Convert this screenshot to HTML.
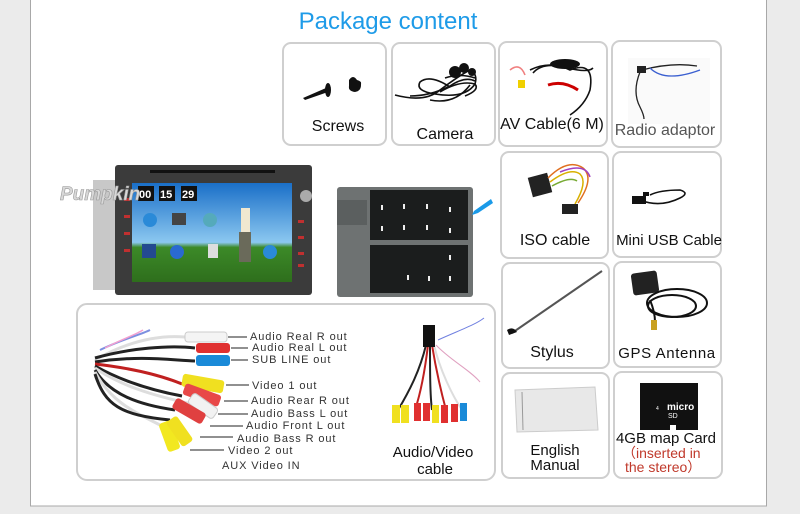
<!DOCTYPE html>
<html><head><meta charset="utf-8"><style>
html,body{margin:0;padding:0;background:#ebebeb;}
body{width:800px;height:514px;overflow:hidden;position:relative;font-family:"Liberation Sans",Arial,sans-serif;}
svg{position:absolute;left:0;top:0;}
</style></head><body>
<svg width="800" height="514" viewBox="0 0 800 514" xmlns="http://www.w3.org/2000/svg" font-family="Liberation Sans, Arial, sans-serif">
<rect x="0" y="0" width="800" height="514" fill="#ebebeb"/>
<rect x="30.5" y="-2" width="736" height="508" fill="#fff" stroke="#a8a8a8" stroke-width="1"/>

<text x="388" y="29" font-size="24" fill="#1e9be8" text-anchor="middle">Package content</text>

<!-- boxes -->
<g fill="#fff" stroke="#cfcfcf" stroke-width="2">
<rect x="283" y="43" width="103" height="102" rx="8"/>
<rect x="392" y="43" width="103" height="102" rx="8"/>
<rect x="499" y="42" width="108" height="104" rx="8"/>
<rect x="612" y="41" width="109" height="106" rx="8"/>
<rect x="501" y="152" width="107" height="106" rx="8"/>
<rect x="613" y="152" width="108" height="105" rx="8"/>
<rect x="502" y="263" width="107" height="105" rx="8"/>
<rect x="614" y="262" width="107" height="105" rx="8"/>
<rect x="502" y="373" width="107" height="105" rx="8"/>
<rect x="614" y="372" width="108" height="106" rx="8"/>
<rect x="77" y="304" width="418" height="176" rx="10"/>
</g>

<!-- screws -->
<g fill="#111">
<polygon points="303,98 326,88 328,92 305,100"/>
<ellipse cx="328" cy="90" rx="3" ry="7"/>
<path d="M349,80 q4,-6 8,0 q5,1 4,5 q0,6 -6,7 q-7,-1 -6,-6z"/>
</g>
<!-- camera -->
<g fill="none" stroke="#111" stroke-width="1.6">
<path d="M395,95 q30,8 45,-5 q20,-15 30,-20 q8,4 5,14 q-10,15 -40,10 q-20,-3 -15,-12 q10,-8 30,5"/>
<path d="M410,96 q20,0 40,-10 q15,-10 25,-5"/>
<path d="M430,100 q25,5 40,-15"/>
<path d="M440,92 q20,-12 35,-8 q5,6 -10,12"/>
<path d="M445,78 q15,-5 30,0"/>
</g>
<g fill="#111"><circle cx="455" cy="72" r="6"/><circle cx="464" cy="68" r="5"/><circle cx="472" cy="72" r="4"/></g>
<!-- AV cable -->
<g fill="none" stroke-width="1.6">
<path d="M510,70 q10,-8 15,5" stroke="#f08080"/>
<path d="M530,70 q20,-10 40,0 q25,-10 20,20 q-5,15 -20,25" stroke="#111"/>
<path d="M533,73 q10,-12 35,-5 q20,5 25,0" stroke="#111"/>
<path d="M548,85 q15,-5 30,5" stroke="#c00" stroke-width="3"/>
</g>
<rect x="518" y="80" width="7" height="8" fill="#f0d000"/>
<ellipse cx="565" cy="64" rx="15" ry="5" fill="#111"/>
<!-- radio adaptor -->
<rect x="628" y="58" width="82" height="66" fill="#fafafa"/>
<g fill="none" stroke-width="1.3">
<path d="M640,72 q-8,20 0,35 q4,8 4,12" stroke="#222"/>
<path d="M642,70 q30,-8 55,-4" stroke="#222"/>
<path d="M650,68 q15,15 50,2" stroke="#3a5fd0"/>
</g>
<rect x="637" y="66" width="9" height="7" fill="#222"/>
<!-- ISO cable -->
<rect x="530" y="175" width="20" height="20" fill="#222" transform="rotate(-15 540 185)"/>
<g fill="none" stroke-width="1.5">
<path d="M548,178 q20,-20 35,-10 q12,10 -5,35" stroke="#e07020"/>
<path d="M550,182 q20,-15 30,-8 q8,8 -5,30" stroke="#d8b000"/>
<path d="M552,186 q18,-10 25,-5" stroke="#7a3"/>
<path d="M560,172 q25,-10 30,5" stroke="#a040c0"/>
</g>
<rect x="562" y="204" width="16" height="10" fill="#222"/>
<!-- mini usb -->
<g fill="none" stroke="#111" stroke-width="1.6">
<path d="M640,200 q20,8 40,-2 q10,-5 0,-8 q-20,0 -30,5"/>
</g>
<rect x="632" y="196" width="14" height="8" fill="#111"/>
<rect x="643" y="192" width="6" height="4" fill="#111"/>
<!-- stylus -->
<line x1="512" y1="333" x2="602" y2="271" stroke="#555" stroke-width="2"/>
<path d="M507,330 q6,-4 10,2 l-8,3z" fill="#111"/>
<!-- GPS -->
<rect x="632" y="272" width="26" height="22" rx="3" fill="#222" transform="rotate(-8 645 283)"/>
<g fill="none" stroke="#111" stroke-width="2">
<ellipse cx="677" cy="303" rx="30" ry="14"/>
<ellipse cx="672" cy="306" rx="24" ry="11"/>
<path d="M650,300 q5,12 5,22"/>
</g>
<rect x="651" y="320" width="6" height="10" fill="#c9a020"/>
<!-- manual -->
<polygon points="515,390 595,387 598,430 517,432" fill="#e8e8e8" stroke="#ccc"/>
<line x1="522" y1="392" x2="523" y2="430" stroke="#999"/>
<!-- microSD -->
<path d="M640,383 h58 v47 h-22 v-5 h-6 v5 h-30z" fill="#111"/>
<text x="667" y="410" font-size="10" fill="#fff" font-weight="bold">micro</text>
<text x="668" y="418" font-size="7" fill="#fff">SD</text>
<text x="656" y="410" font-size="5" fill="#fff">4</text>

<!-- head unit -->
<rect x="93" y="180" width="24" height="110" fill="#c8c8c8"/>
<rect x="115" y="165" width="197" height="130" rx="3" fill="#3b3b3b"/>
<rect x="150" y="170" width="125" height="3" fill="#111"/>
<defs>
<linearGradient id="sky" x1="0" y1="0" x2="0" y2="1"><stop offset="0" stop-color="#1a6fc8"/><stop offset="0.6" stop-color="#8cc8f0"/><stop offset="0.65" stop-color="#3c8a28"/><stop offset="1" stop-color="#2e6e1c"/></linearGradient>
</defs>
<rect x="132" y="183" width="160" height="99" fill="url(#sky)"/>
<g fill="#111"><rect x="138" y="186" width="16" height="15"/><rect x="159" y="186" width="16" height="15"/><rect x="181" y="186" width="16" height="15"/></g>
<g fill="#fff" font-size="11" font-weight="bold"><text x="139" y="198">00</text><text x="160" y="198">15</text><text x="182" y="198">29</text></g>
<g><circle cx="150" cy="220" r="7" fill="#2a8ad8"/><rect x="172" y="213" width="14" height="12" fill="#444"/><circle cx="210" cy="220" r="7" fill="#5ab"/><circle cx="177" cy="252" r="7" fill="#2a6ad0"/><rect x="142" y="244" width="14" height="14" fill="#234a90"/><rect x="208" y="244" width="10" height="14" fill="#ddd"/><circle cx="270" cy="252" r="7" fill="#2a8ad8"/><rect x="241" y="208" width="9" height="24" fill="#f0e8d0"/><rect x="239" y="232" width="12" height="30" fill="#6a6a5a"/></g>
<g fill="#c03030"><rect x="124" y="198" width="6" height="3"/><rect x="124" y="215" width="6" height="3"/><rect x="124" y="232" width="6" height="3"/><rect x="124" y="249" width="6" height="3"/><rect x="298" y="220" width="6" height="3"/><rect x="298" y="236" width="6" height="3"/><rect x="298" y="252" width="6" height="3"/><rect x="298" y="264" width="6" height="3"/></g>
<circle cx="306" cy="196" r="6" fill="#aaa"/>
<text x="60" y="200" font-size="19" font-style="italic" font-weight="bold" fill="#d8d8d8" stroke="#999" stroke-width="0.6">Pumpkin</text>

<!-- connector -->
<rect x="337" y="187" width="136" height="110" rx="3" fill="#6e7272"/>
<rect x="370" y="190" width="98" height="50" fill="#1b1d1d"/>
<rect x="370" y="245" width="98" height="48" fill="#1b1d1d"/>
<rect x="337" y="200" width="30" height="25" fill="#5b5f5f"/>
<g fill="#eee"><rect x="381" y="205" width="2" height="5"/><rect x="403" y="204" width="2" height="5"/><rect x="426" y="204" width="2" height="5"/><rect x="449" y="207" width="2" height="5"/><rect x="381" y="226" width="2" height="5"/><rect x="403" y="225" width="2" height="5"/><rect x="426" y="225" width="2" height="5"/><rect x="449" y="228" width="2" height="5"/><rect x="449" y="255" width="2" height="5"/><rect x="407" y="275" width="2" height="5"/><rect x="428" y="276" width="2" height="5"/><rect x="449" y="276" width="2" height="5"/></g>
<path d="M491,199 L474,211 L472,215 L478,213 L493,203z" fill="#1a9ae8"/>

<!-- A/V cable bundle -->
<g fill="none" stroke-width="3">
<path d="M95,360 C130,340 160,335 185,337" stroke="#ddd"/>
<path d="M95,358 C130,348 170,345 195,348" stroke="#222"/>
<path d="M95,362 C140,355 170,360 195,361" stroke="#222"/>
<path d="M95,364 C130,368 160,375 182,384" stroke="#c02020"/>
<path d="M95,366 C120,380 150,390 182,396" stroke="#222"/>
<path d="M95,368 C120,385 150,395 192,404" stroke="#ddd"/>
<path d="M95,370 C110,395 140,405 175,410" stroke="#222"/>
<path d="M95,372 C110,400 130,410 160,425" stroke="#ddd"/>
<path d="M95,374 C105,405 120,415 170,420" stroke="#222"/>
<path d="M100,350 C120,340 140,335 150,330" stroke="#7c8fe0" stroke-width="2"/>
<path d="M105,348 C120,340 135,335 143,330" stroke="#f3a0d0" stroke-width="1.5"/>
</g>
<g>
<rect x="185" y="332" width="42" height="10" rx="3" fill="#f4f4f4" stroke="#ccc"/>
<rect x="196" y="343" width="34" height="10" rx="3" fill="#e03030"/>
<rect x="196" y="355" width="34" height="11" rx="3" fill="#1a8ad8"/>
<rect x="182" y="377" width="42" height="13" rx="3" fill="#f0e020" transform="rotate(10 203 383)"/>
<rect x="183" y="389" width="38" height="12" rx="3" fill="#e84848" transform="rotate(20 202 395)"/>
<rect x="188" y="400" width="30" height="12" rx="3" fill="#f2f2f2" stroke="#ccc" transform="rotate(35 203 406)"/>
<rect x="172" y="405" width="34" height="12" rx="3" fill="#e04040" transform="rotate(30 189 411)"/>
<rect x="155" y="430" width="30" height="13" rx="3" fill="#f2e820" transform="rotate(70 170 436)"/>
<rect x="165" y="425" width="30" height="13" rx="3" fill="#f0e020" transform="rotate(55 180 431)"/>
</g>
<g stroke="#222" stroke-width="1">
<line x1="228" y1="337" x2="247" y2="337"/><line x1="231" y1="348" x2="248" y2="348"/><line x1="231" y1="360" x2="248" y2="360"/>
<line x1="226" y1="385" x2="249" y2="385"/><line x1="224" y1="401" x2="248" y2="401"/><line x1="218" y1="414" x2="248" y2="414"/>
<line x1="210" y1="426" x2="243" y2="426"/><line x1="200" y1="437" x2="233" y2="437"/><line x1="190" y1="450" x2="224" y2="450"/>
</g>
<g font-size="11" fill="#333" letter-spacing="0.9">
<text x="250" y="340">Audio Real R out</text>
<text x="252" y="351">Audio Real L out</text>
<text x="252" y="363">SUB LINE out</text>
<text x="252" y="389">Video 1 out</text>
<text x="251" y="404">Audio Rear R out</text>
<text x="251" y="417">Audio Bass L  out</text>
<text x="246" y="429">Audio Front L   out</text>
<text x="237" y="442">Audio Bass R  out</text>
<text x="228" y="454">Video 2  out</text>
<text x="222" y="469">AUX Video IN</text>
</g>

<!-- right cable pic -->
<g fill="none" stroke-width="2">
<path d="M426,345 C420,370 410,390 398,410" stroke="#222"/>
<path d="M428,345 C425,370 420,395 415,410" stroke="#c02020"/>
<path d="M430,345 C430,370 430,395 432,410" stroke="#222"/>
<path d="M432,345 C436,370 442,395 446,410" stroke="#c02020"/>
<path d="M434,345 C440,370 452,395 462,410" stroke="#ddd"/>
<path d="M436,345 C450,360 470,370 480,382" stroke="#e0a0c0" stroke-width="1"/>
<path d="M438,340 C460,330 475,325 484,318" stroke="#7080e0" stroke-width="1"/>
</g>
<rect x="423" y="325" width="12" height="22" fill="#111"/>
<g>
<rect x="392" y="405" width="8" height="18" fill="#f0e020"/><rect x="401" y="405" width="8" height="18" fill="#f0e020"/>
<rect x="414" y="403" width="7" height="18" fill="#e03030"/><rect x="423" y="403" width="7" height="18" fill="#e03030"/>
<rect x="432" y="405" width="7" height="18" fill="#f0e020"/><rect x="441" y="405" width="7" height="18" fill="#e03030"/>
<rect x="451" y="404" width="7" height="18" fill="#e03030"/><rect x="460" y="403" width="7" height="18" fill="#1a8ad8"/>
</g>
<text x="433" y="457" font-size="15" fill="#111" text-anchor="middle">Audio/Video</text>
<text x="435" y="474" font-size="15" fill="#111" text-anchor="middle">cable</text>

<!-- labels -->
<g font-size="16" fill="#111">
<text x="338" y="131" text-anchor="middle">Screws</text>
<text x="445" y="139" text-anchor="middle">Camera</text>
<text x="552" y="129" text-anchor="middle">AV Cable(6 M)</text>
<text x="665" y="135" text-anchor="middle" fill="#555">Radio adaptor</text>
<text x="555" y="245" text-anchor="middle">ISO cable</text>
<text x="669" y="245" text-anchor="middle" font-size="15">Mini USB Cable</text>
<text x="552" y="357" text-anchor="middle">Stylus</text>
<text x="667" y="358" text-anchor="middle" font-size="15" letter-spacing="0.6">GPS Antenna</text>
</g>
<g font-size="15" fill="#111">
<text x="555" y="455" text-anchor="middle">English</text>
<text x="555" y="470" text-anchor="middle">Manual</text>
<text x="666" y="443" text-anchor="middle">4GB map Card</text>
</g>
<g font-size="14" fill="#c0392b" font-family="Liberation Sans, Noto Sans CJK SC, sans-serif">
<text x="622" y="458">（inserted in</text>
<text x="625" y="472">the stereo）</text>
</g>
</svg>
</body></html>
